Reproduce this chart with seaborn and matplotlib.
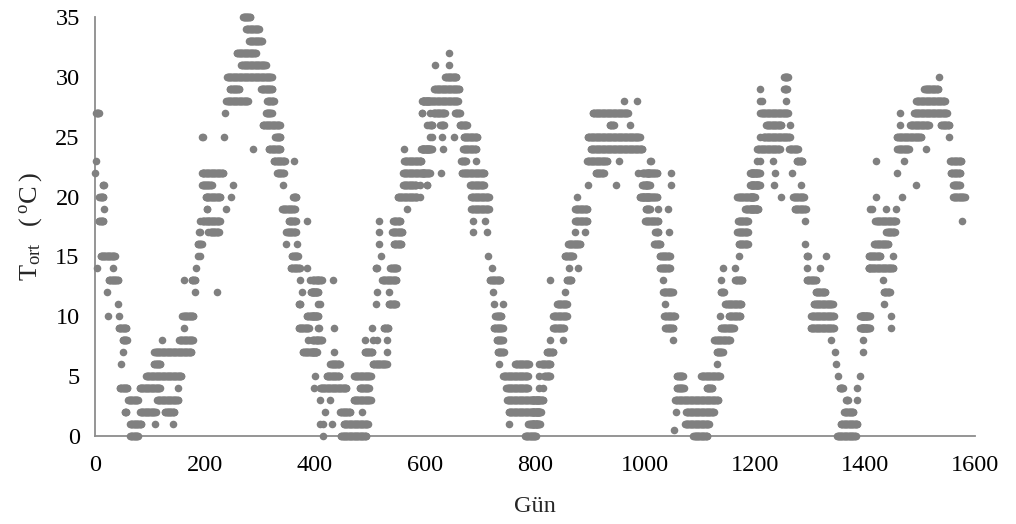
import matplotlib
matplotlib.use("Agg")
import matplotlib.pyplot as plt
import seaborn as sns
import pandas as pd

# Daily mean temperature, stored as runs: (temperature, first day, last day)
donem_1 = [
    (22, 0, 0), (23, 1, 1), (27, 2, 7), (21, 14, 16), (20, 8, 15), (19, 17, 17),
    (18, 7, 15), (15, 10, 36), (14, 4, 4), (14, 33, 33), (13, 25, 42), (12, 22, 22),
    (11, 41, 41), (10, 23, 23), (10, 44, 44), (9, 43, 57), (8, 50, 58), (8, 121, 121),
    (8, 153, 178), (7, 50, 50), (7, 108, 175), (6, 47, 47), (6, 107, 119), (5, 93, 157),
    (4, 45, 59), (4, 81, 118), (4, 150, 150), (3, 60, 78), (3, 113, 151), (2, 54, 57),
    (2, 82, 110), (2, 127, 144), (1, 64, 84), (1, 109, 109), (1, 141, 141), (0, 64, 78),
    (25, 194, 194), (22, 197, 197), (21, 200, 200), (20, 203, 203), (19, 203, 203),
    (18, 191, 191), (18, 207, 207), (17, 189, 189), (17, 206, 206), (16, 187, 192),
    (15, 187, 187), (14, 183, 183), (13, 161, 161), (13, 176, 182), (12, 182, 182),
    (10, 159, 179), (9, 162, 162),
]
donem_2 = [
    (35, 269, 282), (34, 275, 298), (33, 280, 303), (32, 258, 292), (31, 266, 310),
    (30, 240, 321), (29, 245, 262), (29, 302, 322), (28, 239, 278), (28, 313, 325),
    (27, 236, 236), (27, 311, 321), (26, 305, 336), (25, 196, 196), (25, 235, 235),
    (25, 328, 337), (24, 288, 288), (24, 316, 337), (23, 325, 345), (23, 361, 361),
    (22, 195, 233), (22, 331, 343), (21, 195, 212), (21, 250, 250), (21, 342, 342),
    (20, 201, 228), (20, 247, 247), (20, 360, 366), (19, 204, 204), (19, 239, 239),
    (19, 340, 363), (18, 195, 227), (18, 352, 365), (18, 386, 386), (17, 191, 191),
    (17, 209, 225), (17, 348, 365), (16, 194, 194), (16, 348, 348), (16, 367, 367),
    (15, 191, 191), (15, 358, 369), (14, 356, 372), (14, 386, 386), (13, 373, 373),
    (13, 391, 391), (13, 406, 406), (12, 222, 222), (12, 376, 376), (12, 392, 402),
    (11, 370, 373), (11, 406, 406), (10, 385, 402), (9, 370, 389), (9, 406, 406),
    (8, 388, 388), (8, 403, 403), (7, 378, 402), (4, 398, 398), (3, 409, 409), (1, 409, 409),
]
donem_3 = [
    (28, 596, 609), (27, 594, 594), (27, 609, 609), (26, 604, 604), (25, 609, 609),
    (24, 562, 562), (24, 593, 609), (23, 562, 593), (22, 560, 609), (21, 560, 584),
    (21, 604, 604), (20, 550, 586), (19, 568, 568), (18, 517, 517), (18, 542, 555),
    (17, 517, 517), (17, 540, 559), (16, 517, 517), (16, 543, 557), (15, 520, 520),
    (14, 510, 512), (14, 537, 549), (13, 395, 412), (13, 433, 433), (13, 522, 548),
    (12, 395, 406), (12, 512, 512), (12, 535, 535), (11, 409, 409), (11, 511, 511),
    (11, 534, 547), (10, 395, 406), (9, 407, 407), (9, 435, 435), (9, 503, 503),
    (9, 525, 533), (8, 395, 412), (8, 490, 490), (8, 505, 505), (8, 512, 512),
    (8, 530, 530), (7, 395, 403), (7, 435, 435), (7, 490, 504), (7, 530, 530),
    (6, 428, 445), (6, 505, 530), (5, 400, 400), (5, 421, 444), (5, 471, 501),
    (4, 409, 457), (4, 481, 498), (3, 428, 428), (3, 470, 501), (2, 418, 418),
    (2, 446, 464), (2, 485, 485), (1, 414, 414), (1, 430, 430), (1, 452, 496),
    (0, 415, 415), (0, 447, 493),
]
donem_4 = [
    (32, 644, 644), (31, 618, 618), (31, 644, 644), (30, 637, 657), (29, 617, 662),
    (28, 595, 660), (27, 594, 594), (27, 615, 636), (27, 655, 663), (26, 608, 613),
    (26, 628, 634), (26, 663, 676), (25, 612, 612), (25, 630, 630), (25, 652, 652),
    (25, 670, 695), (24, 595, 612), (24, 632, 632), (24, 669, 693), (23, 591, 591),
    (23, 666, 674), (23, 693, 693), (22, 595, 600), (22, 629, 629), (22, 667, 708),
    (21, 591, 591), (21, 604, 604), (21, 682, 707), (20, 591, 591), (20, 684, 716),
    (19, 684, 716), (18, 687, 687), (18, 709, 709), (17, 687, 687), (17, 712, 712),
    (15, 715, 715), (14, 721, 721), (13, 718, 737), (12, 723, 723), (11, 725, 725),
    (11, 741, 741), (10, 728, 739), (9, 725, 741), (8, 730, 741), (7, 732, 743),
    (6, 735, 735), (6, 764, 789), (6, 807, 807), (5, 742, 787), (5, 807, 807),
    (4, 748, 787), (4, 807, 807), (3, 749, 809), (2, 752, 809), (1, 752, 752),
    (1, 788, 809), (0, 782, 801),
]
donem_5 = [
    (28, 961, 961), (28, 986, 986), (27, 905, 969), (26, 936, 943), (26, 972, 972),
    (25, 896, 990), (24, 901, 995), (23, 895, 931), (23, 953, 953), (23, 1009, 1009),
    (22, 910, 925), (22, 988, 988), (22, 1004, 1009), (21, 897, 897), (21, 948, 948),
    (21, 1000, 1009), (20, 990, 1009), (20, 876, 876), (19, 1002, 1009), (19, 873, 895),
    (18, 1000, 1000), (18, 873, 895), (17, 873, 873), (17, 890, 890), (16, 860, 882),
    (15, 854, 869), (14, 862, 862), (14, 879, 879), (13, 828, 828), (13, 858, 866),
    (12, 855, 855), (11, 840, 858), (10, 833, 858), (9, 833, 852), (8, 828, 828),
    (8, 851, 851), (7, 821, 833), (6, 811, 828), (5, 817, 827), (4, 814, 814),
    (3, 795, 815), (2, 795, 810), (1, 795, 804), (0, 800, 800),
]
donem_6 = [
    (23, 1010, 1010), (22, 995, 1022), (22, 1047, 1047), (21, 995, 1004), (21, 1047, 1047),
    (20, 995, 1022), (19, 1002, 1002), (19, 1024, 1024), (19, 1042, 1042), (18, 1001, 1024),
    (17, 1019, 1024), (17, 1044, 1044), (16, 1017, 1028), (15, 1027, 1045), (14, 1027, 1045),
    (13, 1032, 1032), (12, 1033, 1050), (11, 1036, 1036), (10, 1035, 1054), (9, 1037, 1051),
    (8, 1050, 1050), (5, 1058, 1069), (5, 1102, 1136), (4, 1058, 1070), (4, 1112, 1122),
    (3, 1055, 1133), (2, 1056, 1056), (2, 1075, 1125), (1, 1073, 1116), (0.5, 1053, 1053),
    (0, 1088, 1113), (6, 1130, 1130), (7, 1130, 1141), (8, 1126, 1154), (9, 1138, 1161),
    (10, 1136, 1136), (10, 1152, 1173), (11, 1146, 1175), (12, 1138, 1143), (13, 1139, 1139),
    (13, 1164, 1177), (14, 1142, 1142), (14, 1164, 1164), (15, 1170, 1170), (16, 1170, 1187),
    (17, 1168, 1187), (18, 1169, 1187), (19, 1182, 1204), (20, 1168, 1197), (21, 1193, 1209),
    (22, 1193, 1209), (23, 1203, 1203), (24, 1203, 1203), (25, 1209, 1209), (27, 1209, 1209),
    (28, 1209, 1209), (29, 1209, 1209),
]
donem_7 = [
    (30, 1253, 1260), (29, 1253, 1258), (28, 1212, 1212), (28, 1256, 1256), (27, 1211, 1260),
    (26, 1220, 1248), (26, 1264, 1264), (25, 1215, 1263), (24, 1205, 1245), (24, 1262, 1278),
    (23, 1209, 1209), (23, 1232, 1232), (23, 1276, 1286), (22, 1191, 1203), (22, 1236, 1236),
    (22, 1267, 1267), (21, 1191, 1206), (21, 1235, 1235), (21, 1284, 1284), (20, 1191, 1200),
    (20, 1248, 1248), (20, 1269, 1289), (19, 1191, 1206), (19, 1272, 1292), (18, 1290, 1290),
    (16, 1291, 1291), (15, 1294, 1296), (15, 1329, 1329), (14, 1294, 1294), (14, 1318, 1318),
    (13, 1294, 1311), (12, 1310, 1328), (11, 1307, 1341), (10, 1302, 1343), (9, 1301, 1343),
    (8, 1338, 1338), (7, 1346, 1346), (6, 1347, 1347), (5, 1351, 1351), (4, 1354, 1360),
    (3, 1366, 1369), (2, 1362, 1379), (1, 1356, 1386), (0, 1349, 1383), (5, 1390, 1390),
    (4, 1386, 1386), (3, 1385, 1385), (8, 1397, 1397), (9, 1394, 1409), (10, 1394, 1409),
    (14, 1407, 1409), (15, 1409, 1409), (19, 1409, 1409),
]
donem_8 = [
    (30, 1535, 1535), (29, 1508, 1533), (28, 1493, 1545), (27, 1464, 1464), (27, 1489, 1549),
    (26, 1464, 1464), (26, 1482, 1516), (26, 1538, 1553), (25, 1458, 1502), (25, 1553, 1553),
    (24, 1459, 1480), (24, 1511, 1511), (23, 1420, 1420), (23, 1470, 1470), (23, 1555, 1575),
    (22, 1458, 1458), (22, 1556, 1573), (21, 1492, 1492), (21, 1560, 1572), (20, 1420, 1420),
    (20, 1467, 1467), (20, 1560, 1581), (19, 1413, 1413), (19, 1439, 1439), (19, 1456, 1456),
    (18, 1419, 1456), (18, 1577, 1577), (17, 1439, 1454), (16, 1417, 1442), (15, 1407, 1428),
    (15, 1450, 1450), (14, 1407, 1451), (13, 1432, 1432), (12, 1434, 1445), (11, 1435, 1435),
    (10, 1391, 1403), (10, 1447, 1447), (9, 1391, 1403), (9, 1447, 1447), (7, 1396, 1396),
]

x_ticks = [0, 200, 400, 600, 800, 1000, 1200, 1400, 1600]
y_ticks = [0, 5, 10, 15, 20, 25, 30, 35]

gun, sicaklik = [], []
for donem in (donem_1, donem_2, donem_3, donem_4, donem_5, donem_6, donem_7, donem_8):
    for t, ilk, son in donem:
        for d in range(ilk, son + 1):
            gun.append(d)
            sicaklik.append(t)
df = pd.DataFrame({"Gün": gun, "T_ort": sicaklik})

sns.set_theme(style="white")
plt.rcParams["font.family"] = ["Liberation Serif", "DejaVu Serif"]
plt.rcParams["mathtext.fontset"] = "custom"
plt.rcParams["mathtext.rm"] = "Liberation Serif"

fig = plt.figure(figsize=(10.16, 5.24), dpi=100)
ax = fig.add_axes([95 / 1016, 1 - 436 / 524, 880 / 1016, 419 / 524])

sns.scatterplot(data=df, x="Gün", y="T_ort", ax=ax, color="#808080", s=30,
                linewidth=0, clip_on=False, zorder=3)

ax.set_xlim(0, 1600)
ax.set_ylim(0, 35)
ax.set_xticks(x_ticks)
ax.set_yticks(y_ticks)
ax.tick_params(axis="both", length=0, labelsize=17.5, colors="black")
ax.tick_params(axis="y", pad=11)
ax.tick_params(axis="x", pad=14)

for side in ("top", "right"):
    ax.spines[side].set_visible(False)
for side in ("left", "bottom"):
    ax.spines[side].set_color("#8c8c8c")
    ax.spines[side].set_linewidth(1.3)

ax.set_xlabel("Gün", fontsize=17.5, labelpad=14)
ax.set_ylabel(r"$\mathregular{T_{ort}\ \ (\,^{o}C\,)}$", fontsize=19, labelpad=8)

fig.savefig("out.png", dpi=100)
